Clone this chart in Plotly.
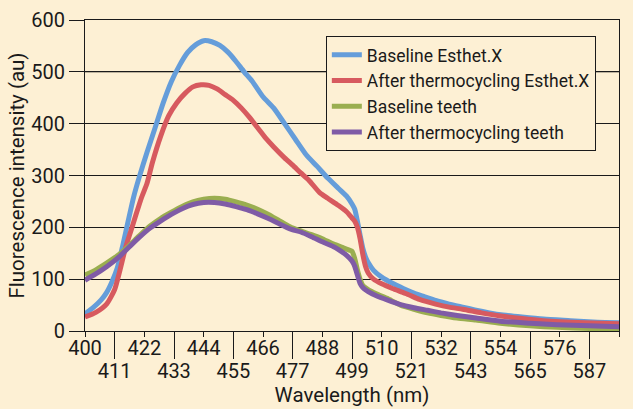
import plotly.graph_objects as go

# ---------------- data ----------------
wl_blue = [400,403,406,408,410,412,414,416,418,420,423,426,429,432,435,438,441,444,447,450,453,456,459,462,466,470,474,478,482,486,490,494,497,499,500,501,502,503,504,505,507,510,514,518,522,526,530,535,540,545,550,555,562,570,580,590,598]
baseline_esthet = [33,45,60,74,95,122,165,212,258,295,345,392,440,481,512,537,552,560,558,551,538,520,500,482,452,430,400,370,340,318,295,275,260,245,235,212,185,160,143,132,117,104,92,82,73,66,59,52,46,40,35,31,27,23,20,17,16]

wl_red = [400,404,408,411,413,415,417,419,421,423,425,428,431,434,437,440,443,446,449,452,455,458,461,464,467,470,474,477,480,483,487,490,494,497,499,500,501,502,503,504,505,507,510,514,517,520,524,530,535,540,547,554,562,570,585,598]
after_esthet = [27,36,52,80,118,160,193,226,258,285,325,375,415,440,458,471,475,474,467,456,445,430,412,392,372,355,334,320,305,291,267,256,242,230,218,212,200,178,148,125,112,100,91,82,76,70,61,52,46,42,35,29,24,20,16,14]

wl_green = [400,404,408,412,416,420,424,428,432,436,440,444,448,452,456,460,464,468,472,476,480,484,488,492,496,498,499,500,501,502,503,505,508,512,517,522,527,532,538,545,554,565,575,587,598]
baseline_teeth = [108,118,131,145,163,183,202,217,229,240,249,254,256,254,249,243,235,225,213,201,193,186,178,168,160,156,154,140,118,100,88,80,72,63,50,42,35,30,25,21,15,10,7,5,4]

wl_purple = [400,404,408,412,416,420,424,428,432,436,440,444,448,452,456,460,464,468,472,476,480,484,488,492,494,497,499,500,501,502,503,505,508,512,517,522,527,532,538,545,554,565,575,587,598]
after_teeth = [98,110,124,140,160,180,198,212,225,236,244,248,248,245,240,234,226,217,207,197,191,182,172,163,157,146,135,125,108,92,84,76,68,60,51,45,40,35,30,25,19,15,12,10,8]

series_names = ["Baseline Esthet.X", "After thermocycling Esthet.X", "Baseline teeth", "After thermocycling teeth"]
series_x = [wl_blue, wl_red, wl_green, wl_purple]
series_y = [baseline_esthet, after_esthet, baseline_teeth, after_teeth]
colors = ["#659DDA", "#D75A5F", "#9AAE50", "#7F5BA6"]

tick_all = list(range(400, 599, 11))
tick_top = tick_all[0::2]
tick_bottom = tick_all[1::2]

y_ticks = [0, 100, 200, 300, 400, 500, 600]

# ---------------- figure ----------------
BG = "#FDF0D4"
FONT = "Roboto"
INK = "#1a1a1a"

fig = go.Figure()
for name, xs, ys, c in zip(series_names, series_x, series_y, colors):
    fig.add_trace(go.Scatter(x=xs, y=ys, name=name, mode="lines",
                             line=dict(color=c, width=5, shape="spline", smoothing=0.6)))

# dummy trace to carry secondary x axis
fig.add_trace(go.Scatter(x=[400], y=[None], xaxis="x2", mode="lines",
                         showlegend=False, hoverinfo="skip"))

# the 500 gridline is greyish in the reference
fig.add_shape(type="line", xref="paper", x0=0, x1=1, yref="y", y0=500, y1=500,
              line=dict(color="#7d7566", width=1.5), layer="below")

fig.update_layout(
    width=633, height=409,
    paper_bgcolor=BG, plot_bgcolor=BG,
    margin=dict(l=85, r=14, t=20, b=78, autoexpand=False),
    font=dict(family=FONT, size=18, color=INK),
    showlegend=True,
    legend=dict(x=0.451, y=0.949, xanchor="left", yanchor="top",
                bgcolor=BG, bordercolor=INK, borderwidth=1,
                font=dict(family=FONT, size=17.5, color=INK),
                tracegroupgap=0, itemwidth=30),
    xaxis=dict(range=[400, 598], tickmode="array", tickvals=tick_all,
               ticktext=[str(v) if v in tick_top else "" for v in tick_all],
               ticks="outside", ticklen=5, tickcolor=INK, tickwidth=1,
               ticklabelstandoff=-6,
               showline=True, linecolor=INK, linewidth=1, mirror=True,
               showgrid=False, zeroline=False, automargin=False,
               tickfont=dict(family=FONT, size=20, color=INK)),
    xaxis2=dict(range=[400, 598], overlaying="x", anchor="y", side="bottom",
                tickmode="array", tickvals=tick_bottom,
                ticktext=[str(v) for v in tick_bottom],
                ticks="outside", ticklen=27, tickcolor=INK, tickwidth=1,
                ticklabelstandoff=-5,
                showline=False, showgrid=False, zeroline=False, automargin=True,
                tickfont=dict(family=FONT, size=20, color=INK),
                title=dict(text="Wavelength (nm)", standoff=5,
                           font=dict(family=FONT, size=20.5, color=INK))),
    yaxis=dict(range=[0, 600], tickmode="array", tickvals=y_ticks,
               ticks="outside", ticklen=15, tickcolor=INK, tickwidth=1,
               showline=True, linecolor=INK, linewidth=1, mirror=True,
               showgrid=True, gridcolor=INK, gridwidth=1, zeroline=False,
               automargin=True,
               tickfont=dict(family=FONT, size=20, color=INK),
               title=dict(text="Fluorescence intensity (au)", standoff=1,
                          font=dict(family=FONT, size=20.5, color=INK))),
)

fig.write_html("out.html",
               config={"displayModeBar": False},
               post_script="document.body.style.margin='0';"
                           "document.body.style.background='#FDF0D4';")
